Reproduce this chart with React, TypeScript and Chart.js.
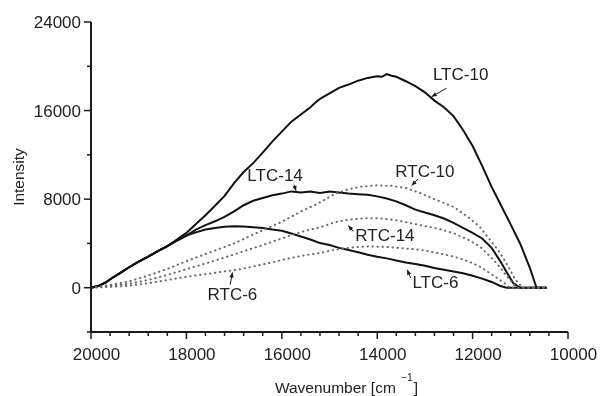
import { useEffect, useRef } from "react";
import { Chart, registerables } from "chart.js";

Chart.register(...registerables);

// ---- Data (wavenumber in cm^-1, intensity in counts) ----
const ltc10Wave = [20000, 19850, 19700, 19550, 19400, 19200, 19000, 18800, 18600, 18400, 18200, 18000, 17800, 17600, 17400, 17200, 17000, 16800, 16600, 16400, 16200, 16000, 15800, 15600, 15400, 15300, 15200, 15000, 14800, 14600, 14400, 14200, 14000, 13900, 13800, 13700, 13600, 13400, 13200, 13000, 12800, 12600, 12400, 12200, 12000, 11800, 11600, 11400, 11200, 11000, 10800, 10660, 10450];
const ltc10Int = [0, 150, 450, 900, 1300, 1850, 2350, 2800, 3300, 3750, 4350, 4950, 5750, 6550, 7400, 8300, 9450, 10450, 11250, 12200, 13200, 14100, 15000, 15650, 16300, 16700, 17050, 17550, 18050, 18350, 18700, 18950, 19100, 19050, 19300, 19150, 19050, 18650, 18200, 17650, 16900, 16300, 15500, 14250, 12800, 11000, 9100, 7400, 5700, 3950, 1800, 0, 0];

const ltc14Wave = [20000, 19850, 19700, 19550, 19400, 19200, 19000, 18800, 18600, 18400, 18200, 18000, 17800, 17600, 17400, 17200, 17000, 16800, 16600, 16400, 16200, 16000, 15800, 15600, 15400, 15200, 15000, 14800, 14600, 14400, 14200, 14000, 13800, 13600, 13400, 13200, 13000, 12800, 12600, 12400, 12200, 12000, 11800, 11600, 11400, 11300, 11150, 11000, 10450];
const ltc14Int = [0, 150, 450, 900, 1300, 1850, 2350, 2800, 3300, 3750, 4250, 4700, 5250, 5650, 6000, 6400, 6900, 7450, 7850, 8100, 8350, 8500, 8700, 8600, 8700, 8550, 8700, 8600, 8500, 8450, 8400, 8250, 8050, 7800, 7450, 7050, 6800, 6550, 6250, 5850, 5400, 4950, 4450, 3600, 2250, 1500, 420, 0, 0];

const ltc6Wave = [20000, 19850, 19700, 19550, 19400, 19200, 19000, 18800, 18600, 18400, 18200, 18000, 17800, 17600, 17400, 17200, 17000, 16800, 16600, 16400, 16200, 16000, 15800, 15600, 15400, 15200, 15000, 14800, 14600, 14400, 14200, 14000, 13800, 13600, 13400, 13200, 13000, 12800, 12600, 12400, 12200, 12000, 11800, 11600, 11430, 11290, 10450];
const ltc6Int = [0, 150, 450, 900, 1300, 1850, 2350, 2800, 3300, 3750, 4250, 4700, 5000, 5250, 5400, 5500, 5550, 5530, 5470, 5400, 5250, 5150, 4900, 4630, 4350, 4030, 3850, 3600, 3400, 3200, 2980, 2800, 2650, 2450, 2280, 2150, 1980, 1780, 1620, 1470, 1300, 1080, 820, 520, 180, 0, 0];

const rtc10Wave = [20000, 19600, 19200, 18800, 18400, 18000, 17500, 17000, 16500, 16000, 15600, 15200, 14900, 14600, 14300, 14000, 13700, 13400, 13100, 12800, 12400, 12100, 11850, 11650, 11430, 11250, 11100, 10950, 10450];
const rtc10Int = [0, 250, 570, 1100, 1700, 2400, 3200, 4000, 5000, 5950, 6880, 7700, 8450, 8900, 9150, 9250, 9200, 9000, 8550, 8000, 7300, 6400, 5500, 4400, 3200, 1900, 700, 0, 0];

const rtc14Wave = [20000, 19600, 19200, 18800, 18400, 17900, 17400, 16900, 16400, 15900, 15500, 15200, 14900, 14600, 14200, 13900, 13600, 13100, 12700, 12400, 12100, 11850, 11650, 11500, 11350, 11220, 11080, 10450];
const rtc14Int = [0, 180, 360, 700, 1150, 1800, 2450, 3150, 3850, 4600, 5150, 5450, 5900, 6150, 6290, 6250, 6100, 5650, 5300, 4930, 4350, 3730, 2900, 2230, 1400, 720, 0, 0];

const rtc6Wave = [20000, 19600, 19200, 18800, 18400, 17900, 17400, 16900, 16400, 15900, 15500, 15200, 14900, 14500, 14200, 13800, 13500, 13100, 12700, 12400, 12100, 11850, 11650, 11430, 11300, 11220, 10450];
const rtc6Int = [0, 90, 180, 400, 700, 1050, 1350, 1650, 2100, 2600, 2950, 3130, 3430, 3650, 3730, 3680, 3580, 3430, 3100, 2820, 2400, 1920, 1350, 720, 300, 0, 0];

// ---- Axes ----
const xMin = 10000;
const xMax = 20000;
const yMin = -4000;
const yMax = 24000;
const xTickLabels = [20000, 18000, 16000, 14000, 12000, 10000];
const xMinorStep = 400;
const yTickLabels = [0, 8000, 16000, 24000];
const yMinorTicks = [-4000, 4000, 12000, 20000];
const xTitle = "Wavenumber [cm";
const xTitleSup = "\u22121";
const xTitleEnd = "]";
const yTitle = "Intensity";

// ---- Curve labels (in data coordinates) ----
const labelNames = ["LTC-10", "RTC-10", "LTC-14", "RTC-14", "LTC-6", "RTC-6"];
const labelWave = [12251, 13000, 16141, 13837, 12780, 17035];
const labelInt = [19217, 10440, 10040, 4600, 360, -677];
const arrowTailWave = [12545, 13140, 15743, 14501, 13299, 17083];
const arrowTailInt = [18017, 9834, 9293, 5079, 875, 271];
const arrowHeadWave = [12859, 13278, 15701, 14606, 13370, 17035];
const arrowHeadInt = [17259, 9230, 8751, 5621, 1624, 1380];

const pts = (w: number[], v: number[]) => w.map((x, i) => ({ x, y: v[i] }));

const FONT = '"Liberation Sans", Arial, Helvetica, sans-serif';
const TEXT = "#222";

function drawArrow(ctx: CanvasRenderingContext2D, x1: number, y1: number, x2: number, y2: number) {
  ctx.beginPath();
  ctx.moveTo(x1, y1);
  ctx.lineTo(x2, y2);
  ctx.stroke();
  const a = Math.atan2(y2 - y1, x2 - x1);
  const L = 5;
  const W = 2.2;
  ctx.beginPath();
  ctx.moveTo(x2, y2);
  ctx.lineTo(x2 - L * Math.cos(a) + W * Math.sin(a), y2 - L * Math.sin(a) - W * Math.cos(a));
  ctx.lineTo(x2 - L * Math.cos(a) - W * Math.sin(a), y2 - L * Math.sin(a) + W * Math.cos(a));
  ctx.closePath();
  ctx.fill();
}

const decorPlugin = {
  id: "decor",
  afterDraw(chart: any) {
    const ctx: CanvasRenderingContext2D = chart.ctx;
    const xs = chart.scales.x;
    const ys = chart.scales.y;
    const { left, right, top, bottom } = chart.chartArea;
    ctx.save();
    ctx.strokeStyle = "#1a1a1a";
    ctx.fillStyle = "#1a1a1a";
    ctx.lineWidth = 2;
    ctx.beginPath();
    ctx.moveTo(left, top);
    ctx.lineTo(left, bottom + 1);
    ctx.stroke();
    ctx.beginPath();
    ctx.moveTo(left - 1, bottom);
    ctx.lineTo(right, bottom);
    ctx.stroke();

    ctx.lineWidth = 1.5;
    for (const v of yTickLabels) {
      const y = ys.getPixelForValue(v);
      ctx.beginPath();
      ctx.moveTo(left - 7, y);
      ctx.lineTo(left, y);
      ctx.stroke();
    }
    for (const v of yMinorTicks) {
      const y = ys.getPixelForValue(v);
      ctx.beginPath();
      ctx.moveTo(left - 4, y);
      ctx.lineTo(left, y);
      ctx.stroke();
    }
    for (let v = xMin; v <= xMax; v += xMinorStep) {
      const x = xs.getPixelForValue(v);
      const major = xTickLabels.includes(v);
      ctx.beginPath();
      ctx.moveTo(x, bottom);
      ctx.lineTo(x, bottom + (major ? 7 : 4));
      ctx.stroke();
    }

    ctx.fillStyle = TEXT;
    ctx.font = `17px ${FONT}`;
    ctx.textBaseline = "alphabetic";
    ctx.textAlign = "right";
    for (const v of yTickLabels) {
      const y = ys.getPixelForValue(v);
      ctx.fillText(String(v), left - 10, y + 6);
    }
    ctx.textAlign = "center";
    for (const v of xTickLabels) {
      const x = xs.getPixelForValue(v);
      ctx.fillText(String(v), x + 5.5, bottom + 28);
    }

    ctx.font = `15.5px ${FONT}`;
    ctx.save();
    ctx.translate(23.5, (top + bottom) / 2);
    ctx.rotate(-Math.PI / 2);
    ctx.textAlign = "center";
    ctx.fillText(yTitle, 0, 0);
    ctx.restore();

    ctx.textAlign = "left";
    const gap = 5;
    const w1 = ctx.measureText(xTitle).width;
    ctx.font = `10.5px ${FONT}`;
    const w2 = ctx.measureText(xTitleSup).width;
    ctx.font = `15.5px ${FONT}`;
    const w3 = ctx.measureText(xTitleEnd).width;
    const total = w1 + gap + w2 + 1 + w3;
    const startX = (left + right) / 2 + 17 - total / 2;
    const baseY = bottom + 61;
    ctx.fillText(xTitle, startX, baseY);
    ctx.font = `10.5px ${FONT}`;
    ctx.fillText(xTitleSup, startX + w1 + gap, baseY - 12);
    ctx.font = `15.5px ${FONT}`;
    ctx.fillText(xTitleEnd, startX + w1 + gap + w2 + 1, baseY);

    ctx.font = `17px ${FONT}`;
    ctx.textAlign = "center";
    ctx.textBaseline = "middle";
    labelNames.forEach((name, i) => {
      ctx.fillStyle = TEXT;
      ctx.fillText(name, xs.getPixelForValue(labelWave[i]), ys.getPixelForValue(labelInt[i]));
      ctx.strokeStyle = "#1a1a1a";
      ctx.fillStyle = "#1a1a1a";
      ctx.lineWidth = 1;
      drawArrow(
        ctx,
        xs.getPixelForValue(arrowTailWave[i]),
        ys.getPixelForValue(arrowTailInt[i]),
        xs.getPixelForValue(arrowHeadWave[i]),
        ys.getPixelForValue(arrowHeadInt[i])
      );
    });
    ctx.restore();
  },
};

export default function App() {
  const ref = useRef<HTMLCanvasElement | null>(null);

  useEffect(() => {
    document.body.style.margin = "0";
    const canvas = ref.current;
    if (!canvas) return;
    const solid = (label: string, data: any) => ({
      label,
      data,
      borderColor: "#111",
      borderWidth: 2,
      pointRadius: 0,
      fill: false,
      tension: 0,
    });
    const dotted = (label: string, data: any) => ({
      label,
      data,
      borderColor: "#6a6a6a",
      borderWidth: 2,
      borderDash: [0.4, 4.6],
      borderCapStyle: "round" as const,
      pointRadius: 0,
      fill: false,
      tension: 0,
    });
    const chart = new Chart(canvas, {
      type: "line",
      data: {
        datasets: [
          dotted("RTC-6", pts(rtc6Wave, rtc6Int)),
          dotted("RTC-14", pts(rtc14Wave, rtc14Int)),
          dotted("RTC-10", pts(rtc10Wave, rtc10Int)),
          solid("LTC-6", pts(ltc6Wave, ltc6Int)),
          solid("LTC-14", pts(ltc14Wave, ltc14Int)),
          solid("LTC-10", pts(ltc10Wave, ltc10Int)),
        ],
      },
      options: {
        animation: false,
        responsive: false,
        devicePixelRatio: 1,
        layout: { padding: { top: 22, right: 33, left: 0, bottom: 0 } },
        plugins: { legend: { display: false }, tooltip: { enabled: false } },
        scales: {
          x: {
            type: "linear",
            min: xMin,
            max: xMax,
            reverse: true,
            ticks: { display: false },
            grid: { display: false, drawTicks: false },
            border: { display: false },
            afterFit: (s: any) => {
              s.height = 64;
            },
          },
          y: {
            type: "linear",
            min: yMin,
            max: yMax,
            ticks: { display: false },
            grid: { display: false, drawTicks: false },
            border: { display: false },
            afterFit: (s: any) => {
              s.width = 91;
            },
          },
        },
      },
      plugins: [decorPlugin],
    });
    return () => chart.destroy();
  }, []);

  return (
    <div style={{ width: 601, height: 396, background: "#fff" }}>
      <canvas ref={ref} width={601} height={396} style={{ display: "block" }} />
    </div>
  );
}
